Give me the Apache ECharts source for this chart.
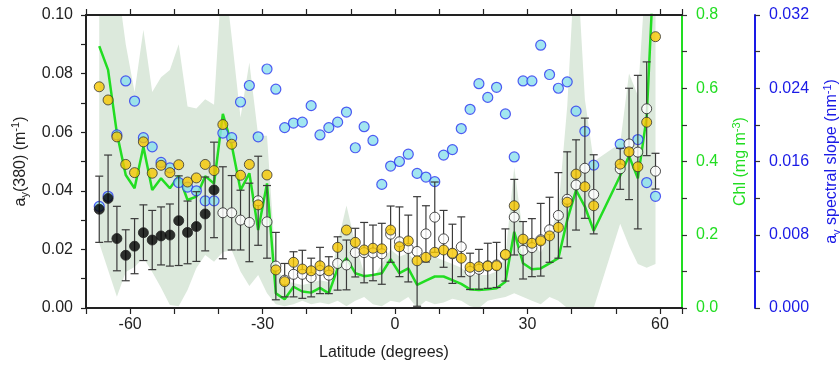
<!DOCTYPE html>
<html>
<head>
<meta charset="utf-8">
<script src="https://cdn.jsdelivr.net/npm/echarts@6/dist/echarts.min.js"></script>
<style>
  html, body { margin: 0; padding: 0; background: #fff; }
  #chart { width: 840px; height: 367px; }
</style>
</head>
<body>
<div id="chart"></div>
<script>
// sample latitudes (degrees)
const lats = [-67, -65, -63, -61, -59, -57, -55, -53, -51, -49, -47, -45, -43, -41, -39, -37,
  -35, -33, -31, -29, -27, -25, -23, -21, -19, -17, -15, -13, -11, -9, -7, -5, -3, -1,
  1, 3, 5, 7, 9, 11, 13, 15, 17, 19, 21, 23, 25, 27, 29, 31, 33, 35, 37, 39, 41, 43, 45,
  51, 53, 55, 57, 59];

// ay(380) mean with error bars (black south of -40, white elsewhere)
const ayMean = [0.0337, 0.0374, 0.0237, 0.0180, 0.0211, 0.0257, 0.0232, 0.0246, 0.0249, 0.0298,
  0.0258, 0.0278, 0.0321, 0.0403, 0.0325, 0.0325, 0.0300, 0.0292, 0.0366, 0.0294, 0.0143,
  0.0095, 0.0115, 0.0115, 0.0104, 0.0128, 0.0112, 0.0152, 0.0147, 0.0189, 0.0189, 0.0188,
  0.0185, 0.0252, 0.0226, 0.0203, 0.0193, 0.0253, 0.0310, 0.0236, 0.0185, 0.0209, 0.0125,
  0.0132, 0.0144, 0.0147, 0.0181, 0.0310, 0.0197, 0.0206, 0.0233, 0.0267, 0.0316, 0.0371,
  0.0420, 0.0477, 0.0388, 0.0475, 0.0560, 0.0532, 0.0680, 0.0467];
const aySd = [0.0113, 0.0148, 0.0110, 0.0087, 0.0094, 0.0095, 0.0101, 0.0099, 0.0106, 0.0153,
  0.0107, 0.0119, 0.0126, 0.0163, 0.0157, 0.0127, 0.0102, 0.0134, 0.0152, 0.0124, 0.0115,
  0.0057, 0.0077, 0.0082, 0.0066, 0.0079, 0.0063, 0.0091, 0.0085, 0.0083, 0.0103, 0.0095,
  0.0104, 0.0096, 0.0119, 0.0114, 0.0187, 0.0096, 0.0120, 0.0097, 0.0101, 0.0102, 0.0062,
  0.0068, 0.0077, 0.0077, 0.0089, 0.0129, 0.0098, 0.0099, 0.0124, 0.0111, 0.0146, 0.0162,
  0.0154, 0.0171, 0.0135, 0.0070, 0.0190, 0.0262, 0.0160, 0.0061];

// ay(380) second estimate (yellow)
const ayYellow = [0.0755, 0.0710, 0.0584, 0.0490, 0.0462, 0.0567, 0.0460, 0.0487, 0.0462, 0.0489,
  0.0430, 0.0444, 0.0490, 0.0469, 0.0626, 0.0559, 0.0453, 0.0490, 0.0352, 0.0454, 0.0130,
  0.0090, 0.0156, 0.0133, 0.0127, 0.0144, 0.0127, 0.0207, 0.0266, 0.0224, 0.0198, 0.0204,
  0.0202, 0.0266, 0.0209, 0.0229, 0.0161, 0.0173, 0.0190, 0.0198, 0.0187, 0.0170, 0.0139,
  0.0141, 0.0143, 0.0144, 0.0183, 0.0349, 0.0235, 0.0221, 0.0229, 0.0246, 0.0275, 0.0361,
  0.0457, 0.0414, 0.0349, 0.0491, 0.0533, 0.0482, 0.0634, 0.0926];

// ay spectral slope (nm^-1)
const slope = [0.0111, 0.0122, 0.0189, 0.0248, 0.0226, 0.0186, 0.0176, 0.0159, 0.0153, 0.0137,
  0.0132, 0.0128, 0.0117, 0.0117, 0.0191, 0.0186, 0.0225, 0.0243, 0.0187, 0.0261, 0.0239,
  0.0197, 0.0202, 0.0203, 0.0221, 0.0189, 0.0197, 0.0203, 0.0214, 0.0175, 0.0198, 0.0183,
  0.0135, 0.0155, 0.0160, 0.0168, 0.0147, 0.0143, 0.0138, 0.0167, 0.0173, 0.0196, 0.0217,
  0.0245, 0.0230, 0.0241, 0.0212, 0.0165, 0.0248, 0.0248, 0.0287, 0.0255, 0.0240, 0.0247,
  0.0215, 0.0193, 0.0156, 0.0179, null, 0.0184, 0.0137, 0.0122];

// Chl (mg m^-3): line and range band
const chl = [0.715, 0.650, 0.477, 0.363, 0.327, 0.440, 0.322, 0.354, 0.327, 0.361, 0.295, 0.304,
  0.360, 0.340, 0.530, 0.445, 0.322, 0.368, 0.213, 0.340, 0.040, 0.024, 0.058, 0.045, 0.042,
  0.055, 0.040, 0.108, 0.136, 0.095, 0.087, 0.090, 0.095, 0.133, 0.095, 0.108, 0.063, 0.075,
  0.086, 0.086, 0.076, 0.066, 0.051, 0.049, 0.051, 0.054, 0.072, 0.208, 0.122, 0.106, 0.108,
  0.122, 0.136, 0.240, 0.322, 0.277, 0.211, 0.361, 0.415, 0.354, 0.522, 1.03];
const chlLow = [0.177, 0.104, 0.031, 0.098, 0.112, 0.137, 0.098, 0.055, 0.008, 0.005, 0.049, 0.109,
  0.145, 0.126, 0.153, 0.158, 0.100, 0.060, 0.090, 0.040, 0.010, 0.005, 0.010, 0.020, 0.010,
  0.015, 0.010, 0.020, 0.005, 0.020, 0.030, 0.010, 0.005, 0.020, 0.015, 0.030, 0.000, 0.020,
  0.010, 0.015, 0.025, 0.020, 0.005, 0.000, 0.020, 0.025, 0.030, 0.040, 0.030, 0.020, 0.010,
  0.030, 0.020, 0.000, 0.000, 0.000, 0.000, 0.230, 0.170, 0.120, 0.110, 0.120];
const chlHigh = [0.95, 0.95, 0.90, 0.72, 0.59, 0.76, 0.59, 0.63, 0.65, 0.72, 0.55, 0.545, 0.57,
  0.555, 0.95, 0.74, 0.52, 0.67, 0.47, 0.47, 0.11, 0.076, 0.068, 0.063, 0.068, 0.076, 0.071,
  0.177, 0.28, 0.177, 0.095, 0.082, 0.12, 0.16, 0.14, 0.15, 0.12, 0.13, 0.14, 0.13, 0.12, 0.11,
  0.09, 0.09, 0.09, 0.10, 0.14, 0.385, 0.20, 0.18, 0.15, 0.20, 0.27, 0.55, 1.0, 0.57, 0.40,
  0.45, 0.64, 0.58, 0.95, 1.0];

const FONT = 'Liberation Sans';
const GREEN = '#22dd22';
const BLUE = '#1a1ae6';

const chart = echarts.init(document.getElementById('chart'), null, { renderer: 'canvas' });

const pairs = arr => lats.map((la, i) => [la, arr[i]]);

// one polygon through the upper edge then back along the lower edge
function renderBand(params, api) {
  if (params.dataIndex !== 0) return null;
  const upper = lats.map((la, i) => api.coord([la, chlHigh[i]]));
  const lower = lats.map((la, i) => api.coord([la, chlLow[i]])).reverse();
  const cs = params.coordSys;
  return {
    type: 'group',
    clipPath: { type: 'rect', shape: { x: cs.x, y: cs.y, width: cs.width, height: cs.height } },
    children: [{
      type: 'polygon',
      shape: { points: upper.concat(lower) },
      style: { fill: '#dce9dc', stroke: null }
    }]
  };
}

function renderErr(params, api) {
  const x = api.value(0), m = api.value(1), e = api.value(2);
  const top = api.coord([x, m + e]);
  const bot = api.coord([x, m - e]);
  const w = 4;
  const st = { stroke: '#3a3a3a', lineWidth: 1.2 };
  return {
    type: 'group',
    children: [
      { type: 'line', shape: { x1: top[0], y1: top[1], x2: bot[0], y2: bot[1] }, style: st },
      { type: 'line', shape: { x1: top[0] - w, y1: top[1], x2: top[0] + w, y2: top[1] }, style: st },
      { type: 'line', shape: { x1: bot[0] - w, y1: bot[1], x2: bot[0] + w, y2: bot[1] }, style: st }
    ]
  };
}

const axisBase = {
  axisLine: { show: true, onZero: false, lineStyle: { color: '#222', width: 2 } },
  splitLine: { show: false }
};

const option = {
  animation: false,
  backgroundColor: '#fff',
  textStyle: { fontFamily: FONT },
  grid: { left: 86, right: 158, top: 15, bottom: 59, containLabel: false, outerBoundsMode: 'none' },
  xAxis: [
    {
      ...axisBase,
      type: 'value', min: -70, max: 65, interval: 10, position: 'bottom', z: 10,
      axisTick: { show: true, inside: false, length: 6, lineStyle: { color: '#222', width: 1.2 } },
      axisLabel: {
        fontSize: 16, color: '#222', margin: 9, fontFamily: FONT,
        formatter: v => (v % 30 === 0 ? String(v) : '')
      },
      name: 'Latitude (degrees)', nameLocation: 'middle', nameGap: 37,
      nameTextStyle: { fontSize: 16, color: '#222', fontFamily: FONT }
    },
    {
      ...axisBase,
      type: 'value', min: -70, max: 65, interval: 10, position: 'top', z: 10,
      axisTick: { show: true, inside: false, length: 6, lineStyle: { color: '#222', width: 1.2 } },
      axisLabel: { show: false }
    }
  ],
  yAxis: [
    {
      ...axisBase,
      type: 'value', min: 0, max: 0.1, interval: 0.01, position: 'left', z: 10,
      axisTick: { show: true, length: 5, lineStyle: { color: '#222', width: 1.2 } },
      axisLabel: {
        fontSize: 16, color: '#222', margin: 13, fontFamily: FONT,
        formatter: v => (Math.round(v * 100) % 2 === 0 ? v.toFixed(2) : '')
      },
      name: '{t|a}{sub|y}{t|(380) (m}{sup|-1}{t|)}',
      nameLocation: 'middle', nameRotate: 90, nameGap: 50,
      nameTextStyle: {
        color: '#222', fontSize: 16, fontFamily: FONT,
        rich: {
          t: { fontSize: 16, lineHeight: 20, color: '#222', fontFamily: FONT },
          sub: { fontSize: 11, lineHeight: 11, verticalAlign: 'bottom', color: '#222', fontFamily: FONT },
          sup: { fontSize: 11, lineHeight: 11, verticalAlign: 'top', color: '#222', fontFamily: FONT }
        }
      }
    },
    {
      ...axisBase,
      type: 'value', min: 0, max: 0.8, interval: 0.1, position: 'right', z: 10,
      axisLine: { show: true, onZero: false, lineStyle: { color: GREEN, width: 2 } },
      axisTick: { show: true, length: 5, lineStyle: { color: '#333', width: 1.2 } },
      axisLabel: {
        fontSize: 16, color: GREEN, margin: 14, fontFamily: FONT,
        formatter: v => (Math.round(v * 10) % 2 === 0 ? v.toFixed(1) : '')
      },
      name: '{t|Chl (mg m}{sup|-3}{t|)}',
      nameLocation: 'middle', nameRotate: 90, nameGap: 49,
      nameTextStyle: {
        color: GREEN, fontSize: 16, fontFamily: FONT,
        rich: {
          t: { fontSize: 16, lineHeight: 20, color: GREEN, fontFamily: FONT },
          sup: { fontSize: 11, lineHeight: 11, verticalAlign: 'top', color: GREEN, fontFamily: FONT }
        }
      }
    },
    {
      ...axisBase,
      type: 'value', min: 0, max: 0.032, interval: 0.004, position: 'right', offset: 73, z: 10,
      axisLine: { show: true, onZero: false, lineStyle: { color: BLUE, width: 2 } },
      axisTick: { show: true, length: 5, lineStyle: { color: '#333', width: 1.2 } },
      axisLabel: {
        fontSize: 16, color: BLUE, margin: 14, fontFamily: FONT,
        formatter: v => (Math.round(v * 1000) % 8 === 0 ? v.toFixed(3) : '')
      },
      name: '{t|a}{sub|v}{t| spectral slope (nm}{sup|-1}{t|)}',
      nameLocation: 'middle', nameRotate: 90, nameGap: 67,
      nameTextStyle: {
        color: BLUE, fontSize: 16, fontFamily: FONT,
        rich: {
          t: { fontSize: 16, lineHeight: 20, color: BLUE, fontFamily: FONT },
          sub: { fontSize: 11, lineHeight: 11, verticalAlign: 'bottom', color: BLUE, fontFamily: FONT },
          sup: { fontSize: 11, lineHeight: 11, verticalAlign: 'top', color: BLUE, fontFamily: FONT }
        }
      }
    }
  ],
  series: [
    // Chl range band
    {
      type: 'custom', yAxisIndex: 1, z: 1, silent: true,
      data: lats.map((la, i) => [la, chlLow[i], chlHigh[i]]),
      encode: { x: 0, y: [1, 2] },
      renderItem: renderBand
    },
    // Chl line
    {
      type: 'line', yAxisIndex: 1, z: 2, data: pairs(chl), showSymbol: false, symbol: 'none',
      lineStyle: { color: GREEN, width: 2.5 }
    },
    // spectral slope
    {
      type: 'scatter', yAxisIndex: 2, z: 3, data: pairs(slope).filter(p => p[1] != null),
      symbol: 'circle', symbolSize: 10,
      itemStyle: { color: '#8be0ec', borderColor: '#2a35f0', borderWidth: 1.2 }
    },
    // error bars
    {
      type: 'custom', z: 4,
      data: lats.map((la, i) => [la, ayMean[i], aySd[i]]),
      encode: { x: 0, y: 1 },
      renderItem: renderErr
    },
    // ay mean (black / white)
    {
      type: 'scatter', z: 5, data: pairs(ayMean),
      symbol: 'circle', symbolSize: 10,
      itemStyle: {
        color: p => (p.value[0] <= -41 ? '#000' : '#fff'),
        borderColor: '#222', borderWidth: 1
      }
    },
    // ay yellow
    {
      type: 'scatter', z: 6, data: pairs(ayYellow),
      symbol: 'circle', symbolSize: 10,
      itemStyle: { color: '#f6c700', borderColor: '#333', borderWidth: 1 }
    }
  ]
};

chart.setOption(option);
</script>
</body>
</html>
